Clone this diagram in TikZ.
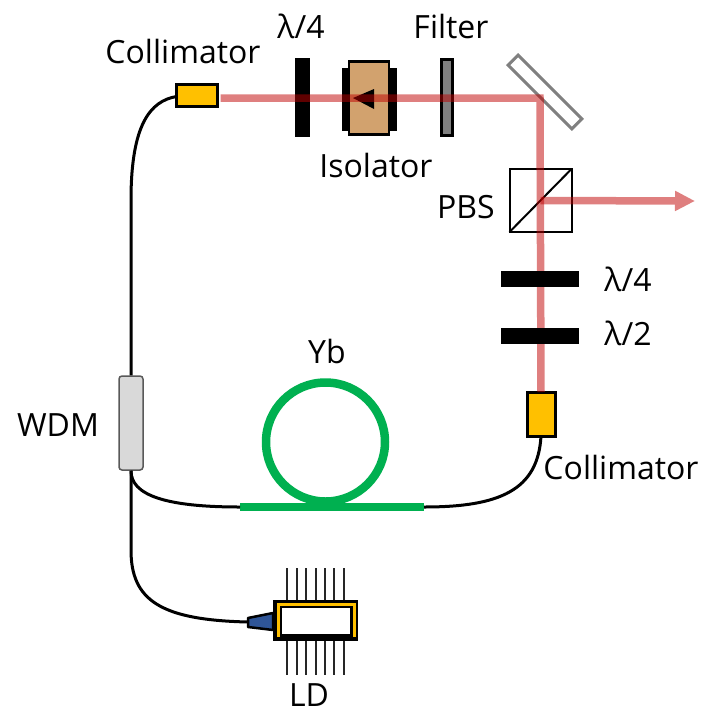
\documentclass[tikz,border=0pt]{standalone}
\usepackage{fontspec}
\setmainfont{Open Sans}
\usetikzlibrary{arrows.meta}
\definecolor{collimatorfill}{HTML}{FFC000}
\definecolor{isolatorfill}{HTML}{D2A26E}
\definecolor{fibergreen}{HTML}{00B050}
\definecolor{taperblue}{HTML}{2F5597}
\tikzset{
  part/.style={draw=black,rectangle,inner sep=0pt,outer sep=0pt,line width=2.5pt},
  collimator/.style={part,fill=collimatorfill,line width=3pt},
  plate/.style={rectangle,fill=black,inner sep=0pt,outer sep=0pt},
  fiber/.style={line width=3pt,black},
  beam/.style={line width=7.5pt,color=red!75!black},
  label/.style={inner sep=0pt,font=\fontsize{32}{36}\selectfont},
  pin/.style={line width=1.6pt,black!85}
}
\begin{document}
\begin{tikzpicture}[x=1pt,y=-1pt]
    \useasboundingbox (0,0) rectangle (701,713);
    % pins behind the laser diode
    \foreach \x in {287,297,306,316,325,334,344} {
      \draw[pin] (\x,568) -- (\x,675);
    }
    % free space parts
    \node[plate,minimum width=15pt,minimum height=79pt] (qwpa) at (302.5,97.5) {};
    \node[plate,minimum width=55pt,minimum height=63pt] (isoback) at (369.5,99.5) {};
    \node[part,fill=isolatorfill,minimum width=40pt,minimum height=73pt] (iso) at (369,98) {};
    \node[part,fill=black!50,minimum width=11pt,minimum height=76pt] (filter) at (447,97.5) {};
    \node[draw=black!50,fill=white,rectangle,line width=3pt,inner sep=0pt,minimum width=90pt,minimum height=14pt,rotate=-45] (mirror) at (545,92) {};
    \node[draw=black,fill=white,rectangle,line width=2pt,inner sep=0pt,outer sep=0pt,minimum width=62pt,minimum height=63pt] (pbs) at (540.5,200.5) {};
    \draw[line width=2pt] (pbs.south west) -- (pbs.north east);
    \node[collimator,minimum width=41pt,minimum height=22pt] (cola) at (197,95.5) {};
    \node[collimator,minimum width=28pt,minimum height=44pt] (colb) at (541,414) {};
    \fill (iso.center) ++(-16,0) coordinate (tip) -- (374,89) -- (374,109) -- cycle;
    % beam
    \coordinate (fold) at (540,98);
    \coordinate (out) at (695,201);
    \draw[beam,opacity=.5] (cola.east) ++(3,2.5) -- (fold) -- (colb.north);
    \begin{scope}[transparency group,opacity=.5]
      \draw[beam,-{Triangle[length=20pt,width=19pt]}] (pbs.center) -- (out);
    \end{scope}
    % plates in front of the beam
    \node[plate,minimum width=78pt,minimum height=16pt] (qwpb) at (540,279) {};
    \node[plate,minimum width=78pt,minimum height=16pt] (hwp) at (540,336) {};
    % gain fibre
    \node[circle,draw=fibergreen,line width=8.5pt,minimum size=119pt,inner sep=0pt] (yb) at (325.5,442) {};
    \coordinate (yba) at (240,507);
    \coordinate (ybb) at (424,507);
    \draw[fibergreen,line width=7.5pt] (yba) -- (ybb);
    % laser diode
    \node[rectangle,fill=black,inner sep=0pt,minimum width=85pt,minimum height=41pt] (ld) at (315.5,620.5) {};
    \draw[collimatorfill,line width=3pt] (278.5,637) -- (278.5,604) -- (354.5,604) -- (354.5,637);
    \node[rectangle,fill=white,inner sep=0pt,minimum width=68pt,minimum height=26pt] (ldin) at (316,621) {};
    \coordinate (taper) at (248,622);
    \draw[fill=taperblue,line width=2.5pt,line join=round] (273,613) -- (248,618) -- (248,627) -- (273,630) -- cycle;
    % wdm and fibres
    \node[draw=black!65,fill=black!15,rectangle,rounded corners=3pt,line width=1.5pt,inner sep=0pt,minimum width=24pt,minimum height=94pt] (wdm) at (131,423) {};
    \draw[fiber] (cola.west) ++(0,1) .. controls (150,101) and (131,125) .. (131,200) -- (wdm.north);
    \draw[fiber] (wdm.south) .. controls (131,495) and (165,507) .. (yba);
    \draw[fiber] (wdm.south) -- (131,550) .. controls (131,600) and (160,620) .. (taper);
    \draw[fiber] (colb.south) .. controls (538,490) and (500,507) .. (ybb);
    % labels
    \node[label] (lcola) at (183,51) {Collimator};
    \node[label] (lqwpa) at (301,26) {λ/4};
    \node[label] (lfilter) at (451,26) {Filter};
    \node[label] (liso) at (376,165) {Isolator};
    \node[label] (lpbs) at (466,207) {PBS};
    \node[label] (lqwpb) at (628,279) {λ/4};
    \node[label] (lhwp) at (628,333) {λ/2};
    \node[label] (lyb) at (327,351) {Yb};
    \node[label] (lwdm) at (58,425) {WDM};
    \node[label] (lcolb) at (621,467) {Collimator};
    \node[label] (lld) at (309,695) {LD};
  \end{tikzpicture}
\end{document}
